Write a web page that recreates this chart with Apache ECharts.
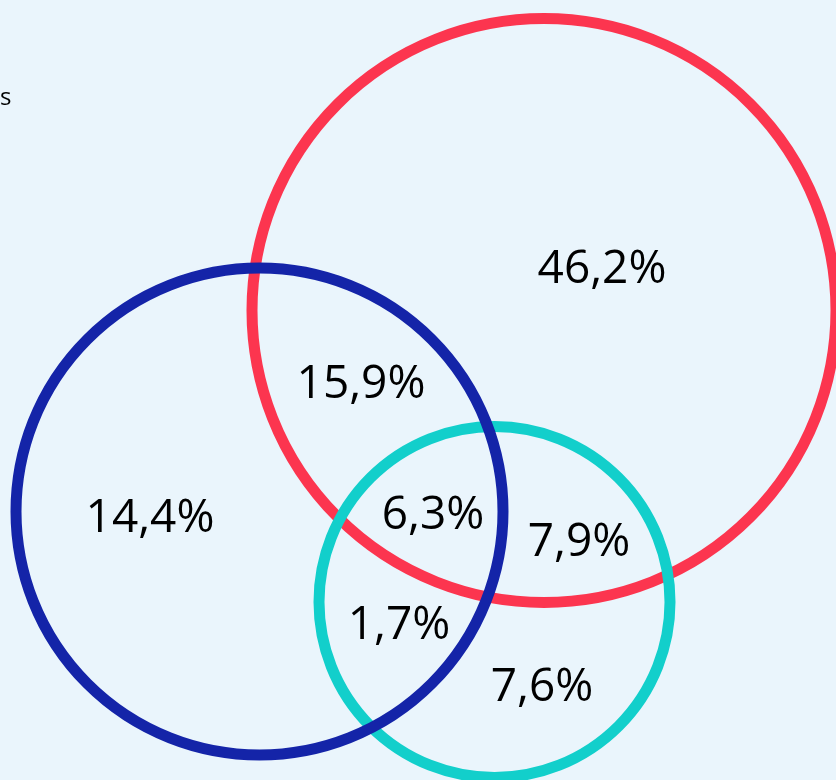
<!DOCTYPE html>
<html>
<head>
<meta charset="utf-8">
<script src="https://cdn.jsdelivr.net/npm/echarts@6/dist/echarts.min.js"></script>
<style>
html,body{margin:0;padding:0;background:#EAF5FC;}
#chart{width:836px;height:780px;}
</style>
</head>
<body>
<div id="chart"></div>
<script>
// Sets (circles) of the Venn diagram, drawn bottom-to-top
var setNames   = ['A', 'C', 'B'];
var setColors  = ['#FC354F', '#12CFCB', '#1424A8'];
var setCenterX = [544, 494.5, 259.5];
var setCenterY = [310.5, 602, 511.5];
var setRadius  = [292, 175.5, 243.5];

// Region values (%)
var regionValues = [46.2, 15.9, 14.4, 6.3, 7.9, 1.7, 7.6];
var regionX      = [602, 361, 150, 433, 579, 399, 542];
var regionY      = [270, 385, 519, 516, 543, 626, 688];

var circleData = setNames.map(function (n, i) {
  return [setCenterX[i], setCenterY[i], setRadius[i], i];
});
var labelData = regionValues.map(function (v, i) {
  return [regionX[i], regionY[i], v];
});

var chart = echarts.init(document.getElementById('chart'));
chart.setOption({
  backgroundColor: '#EAF5FC',
  animation: false,
  title: {
    text: 's', left: 0, top: 86, padding: 0,
    textStyle: {fontFamily: 'Open Sans', fontSize: 24, fontWeight: 'normal', color: '#000'}
  },
  grid: {left: 0, right: 0, top: 0, bottom: 0},
  xAxis: {type: 'value', min: 0, max: 836, show: false},
  yAxis: {type: 'value', min: 0, max: 780, inverse: true, show: false},
  series: [
    {
      type: 'custom',
      data: circleData,
      clip: false,
      renderItem: function (params, api) {
        var c = api.coord([api.value(0), api.value(1)]);
        var s = api.size([api.value(2), api.value(2)]);
        var idx = api.value(3);
        return {
          type: 'circle',
          shape: {cx: c[0], cy: c[1], r: s[0]},
          style: {fill: 'none', stroke: setColors[idx], lineWidth: 11}
        };
      }
    },
    {
      type: 'custom',
      data: labelData,
      clip: false,
      z: 10,
      renderItem: function (params, api) {
        var c = api.coord([api.value(0), api.value(1)]);
        return {
          type: 'text',
          x: c[0], y: c[1],
          style: {
            text: api.value(2).toFixed(1).replace('.', ',') + '%',
            fill: '#000',
            font: 'normal 46px "Open Sans"',
            align: 'center',
            verticalAlign: 'middle'
          }
        };
      }
    }
  ]
});
</script>
</body>
</html>
